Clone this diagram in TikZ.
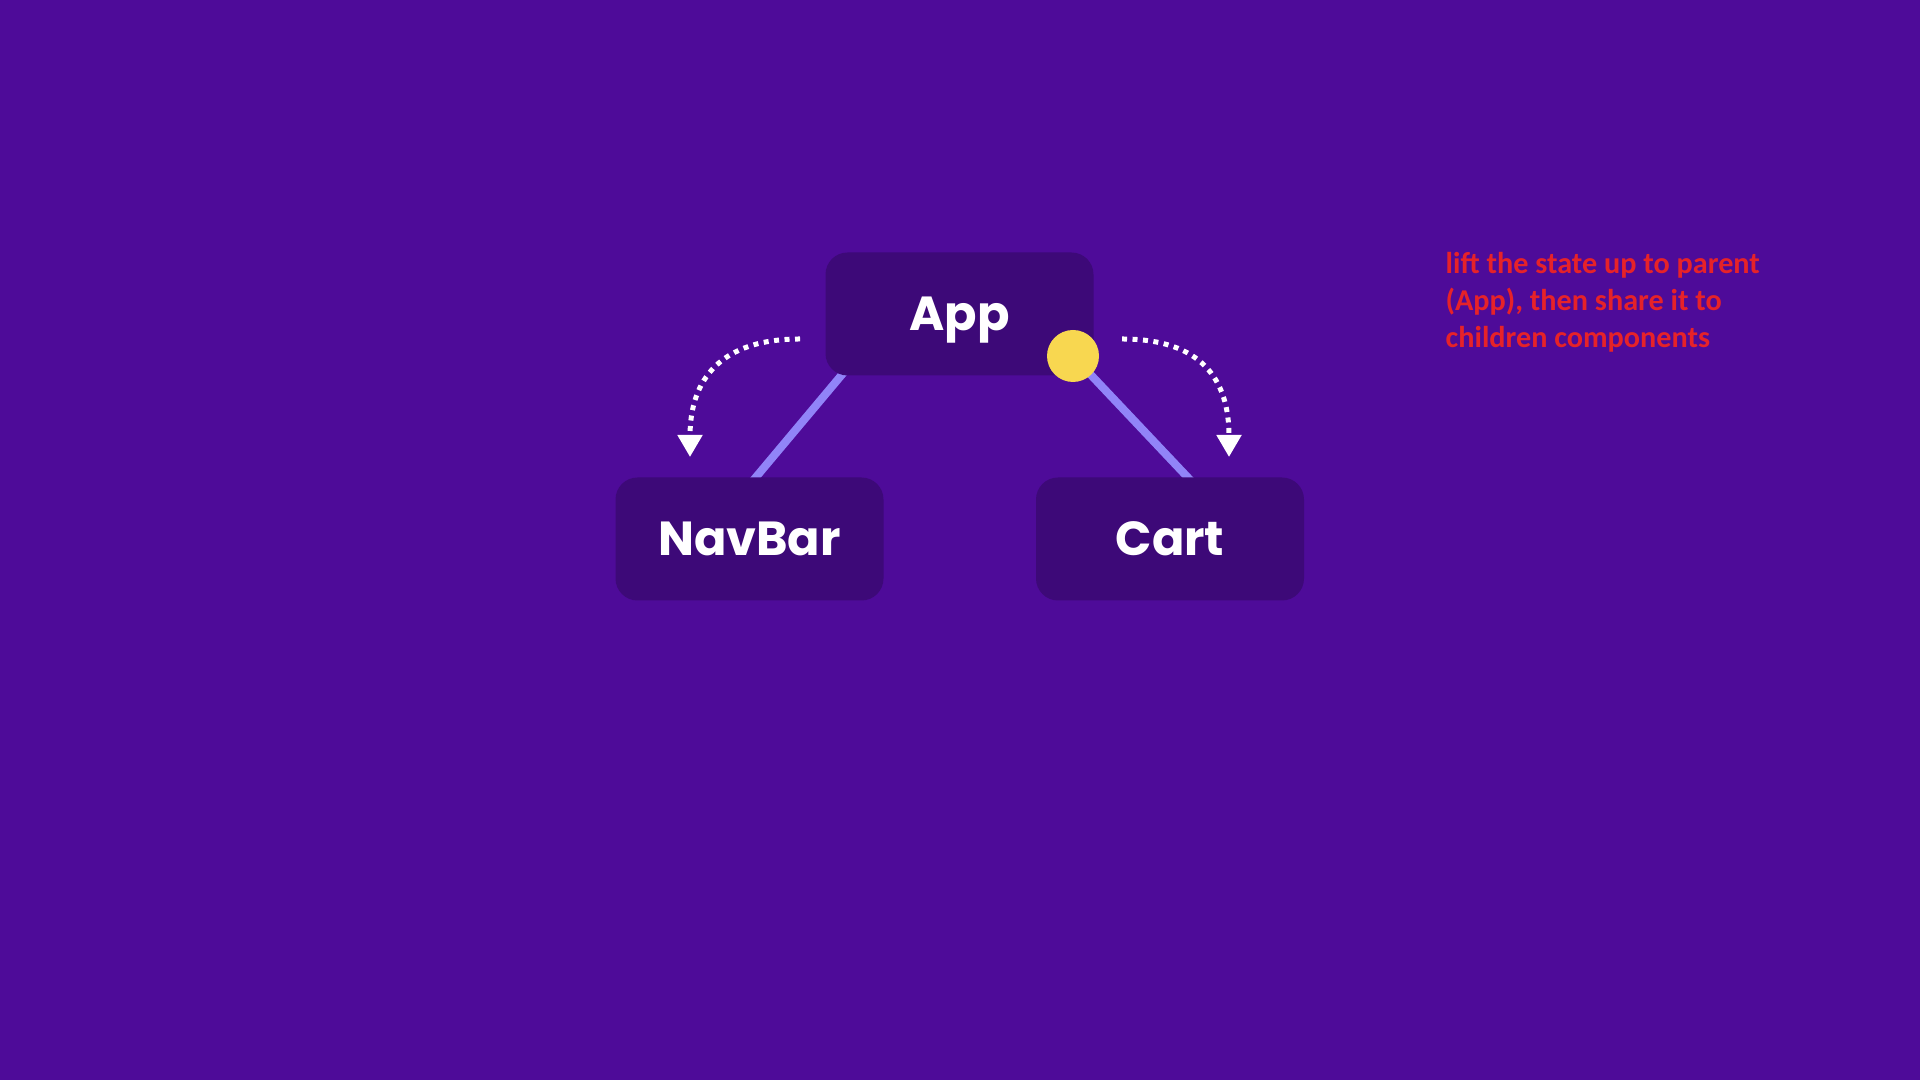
\documentclass[tikz,border=0pt]{standalone}
\usepackage{xcolor}
\usepackage{fontspec}
\usepackage{tikz}
\usetikzlibrary{arrows.meta,backgrounds}
\newfontfamily\popfont{Poppins}
\newfontfamily\notefont{Carlito}
\definecolor{TreeBg}{HTML}{4E0B99}
\definecolor{TreeBox}{HTML}{3D0978}
\definecolor{TreeLink}{HTML}{9184F8}
\definecolor{TreeDot}{HTML}{F8D750}
\definecolor{TreeNote}{HTML}{E62229}

\begin{document}
\begin{tikzpicture}[x=1cm,y=1cm,
  comp/.style={fill=TreeBox,rounded corners=0.22cm,minimum width=2.68cm,minimum height=1.23cm,
    text height=0.34cm,text depth=0cm,
    text=white,font=\popfont\bfseries\fontsize{13.6}{16}\selectfont},
  link/.style={TreeLink,line width=0.08cm},
  flow/.style={white,line width=0.05cm,dash pattern=on 0.05cm off 0.055cm,
    -{Triangle[length=0.22cm,width=0.24cm]}}]
\path[use as bounding box] (0,0) rectangle (19.20,10.80);
\node[comp] (app) at (9.595,7.66) {App};
\node[comp] (navbar) at (7.495,5.41) {NavBar};
\node[comp] (cart) at (11.70,5.41) {Cart};
\node[circle,fill=TreeDot,minimum size=0.52cm,inner sep=0] (state) at (10.73,7.24) {};
\coordinate (appin) at (8.71,7.40);
\coordinate (navin) at (7.20,5.60);
\coordinate (cartin) at (12.28,5.60);
\begin{scope}[on background layer]
\fill[TreeBg] (0,0) rectangle (19.20,10.80);
\draw[link] (appin) -- (navin);
\draw[link] (state.center) -- (cartin);
\end{scope}
% state passed down
\coordinate (outL) at (8.00,7.41);
\coordinate (inL) at (6.90,6.23);
\coordinate (outR) at (11.22,7.41);
\coordinate (inR) at (12.29,6.23);
\draw[flow] (outL) .. controls (7.20,7.41) and (6.90,7.00) .. (inL);
\draw[flow] (outR) .. controls (12.02,7.41) and (12.29,7.00) .. (inR);
\node[anchor=north west,align=left,inner sep=0,text=TreeNote,
  font=\notefont\bfseries\fontsize{8.6}{10.4}\selectfont] (note) at (14.45,8.28)
  {lift the state up to parent\\(App), then share it to\\children components};
\end{tikzpicture}
\end{document}
